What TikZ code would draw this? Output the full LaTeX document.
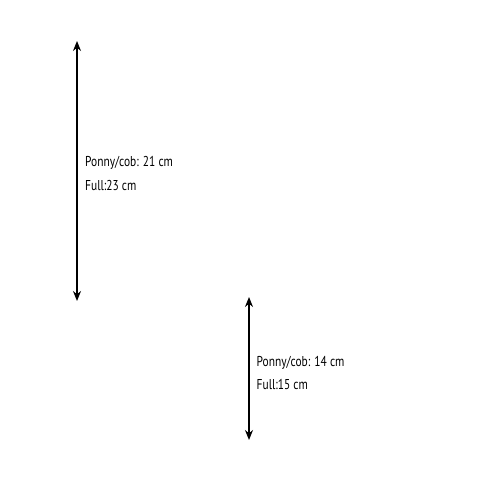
\documentclass[tikz,border=0pt]{standalone}
\usepackage{fontspec}
\setsansfont{PT Sans}[FakeStretch=0.8]
\usetikzlibrary{arrows.meta}
\begin{document}
\begin{tikzpicture}[x=1pt,y=-1pt,
    measure/.style={line width=1.4pt,{Stealth[length=10pt,width=8pt]}-{Stealth[length=10pt,width=8pt]}},
    size/.style={anchor=base west,inner sep=0pt,font=\sffamily\fontsize{14.3}{24}\selectfont}]
  \useasboundingbox (0,0) rectangle (500,500);
  \coordinate (a1) at (77,41);
  \coordinate (b1) at (77,301);
  \coordinate (a2) at (249,297);
  \coordinate (b2) at (249,440);
  \draw[measure] (a1) to (b1);
  \draw[measure] (a2) to (b2);
  \node[size] (pony1) at (85,166.7) {Ponny/cob: 21 cm};
  \node[size] (full1) at (85,190.7) {Full:23 cm};
  \node[size] (pony2) at (256.5,366.5) {Ponny/cob: 14 cm};
  \node[size] (full2) at (256.5,389) {Full:15 cm};
\end{tikzpicture}
\end{document}
